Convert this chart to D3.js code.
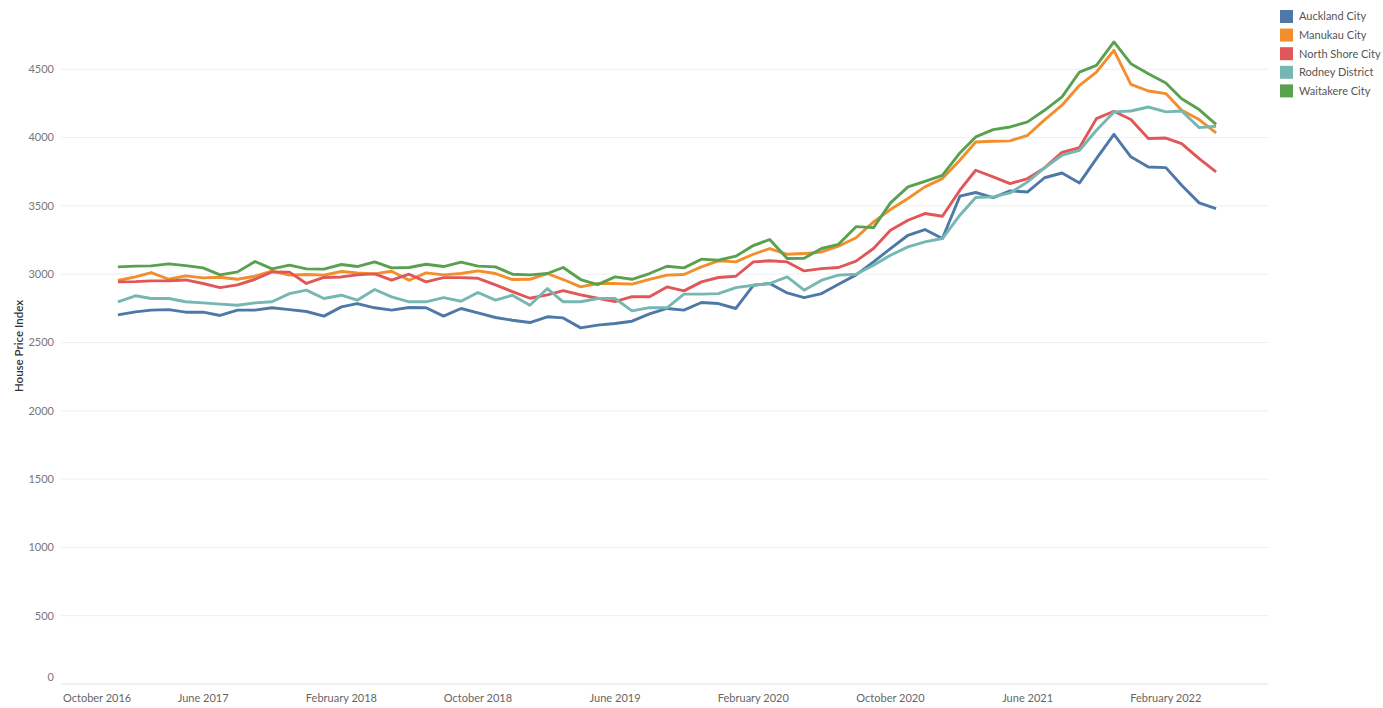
<!DOCTYPE html>
<html>
<head>
<meta charset="utf-8">
<script src="https://cdn.jsdelivr.net/npm/d3@7"></script>
<style>
  body { margin:0; background:#fff; }
  text { font-family: Lato, "Noto Sans", sans-serif; }
</style>
</head>
<body>
<svg id="chart" width="1383" height="708"></svg>
<script>
// monthly index, Jan 2017 .. May 2022
var months = d3.timeMonth.range(new Date(2017, 0, 1), new Date(2022, 5, 1))

var series = ["Auckland City", "Manukau City", "North Shore City", "Rodney District", "Waitakere City"]
var colors = ["#4e79a7", "#f28e2b", "#e15759", "#76b7b2", "#59a14f"]

var auckland = [2702,2724,2737,2741,2722,2722,2698,2737,2737,2754,
  2741,2727,2693,2761,2785,2754,2737,2756,2754,2693,
  2749,2717,2683,2663,2646,2688,2680,2607,2627,2639,
  2656,2710,2749,2737,2793,2785,2749,2919,2932,2863,
  2829,2858,2927,2995,3090,3188,3285,3327,3261,3571,
  3598,3561,3610,3602,3706,3741,3668,3846,4024,3859,
  3785,3780,3651,3522,3480]
var manukau = [2954,2980,3012,2963,2988,2973,2978,2963,2985,3022,
  2993,2998,2993,3020,3010,3002,3022,2956,3010,2995,
  3005,3024,3005,2961,2963,3005,2961,2907,2932,2932,
  2927,2962,2993,2998,3054,3098,3090,3146,3188,3146,
  3151,3163,3205,3267,3383,3473,3554,3639,3700,3834,
  3968,3973,3976,4017,4130,4237,4383,4480,4639,4390,
  4341,4322,4200,4132,4034]
var northShore = [2944,2946,2951,2951,2958,2932,2902,2922,2963,3017,
  3015,2932,2976,2980,2995,3002,2956,3000,2944,2975,
  2975,2970,2922,2873,2824,2849,2880,2849,2824,2800,
  2836,2835,2907,2878,2944,2976,2985,3090,3098,3090,
  3024,3041,3049,3096,3188,3322,3395,3444,3424,3615,
  3761,3712,3663,3700,3778,3892,3927,4139,4193,4132,
  3993,3997,3956,3846,3749]
var rodney = [2798,2842,2822,2822,2798,2790,2781,2773,2790,2798,
  2858,2883,2822,2846,2810,2888,2834,2798,2798,2829,
  2802,2866,2810,2846,2773,2895,2798,2798,2822,2822,
  2732,2755,2754,2854,2854,2858,2902,2919,2932,2980,
  2883,2956,2993,3000,3066,3139,3200,3237,3261,3432,
  3561,3566,3595,3676,3778,3871,3907,4054,4188,4195,
  4224,4188,4195,4073,4083]
var waitakere = [3054,3059,3061,3076,3063,3046,2995,3017,3093,3039,
  3066,3039,3037,3071,3056,3090,3046,3049,3073,3056,
  3088,3059,3054,3000,2995,3005,3049,2961,2924,2980,
  2963,3005,3058,3046,3110,3102,3132,3210,3254,3115,
  3117,3188,3219,3348,3341,3522,3639,3680,3724,3888,
  4005,4058,4078,4115,4200,4298,4480,4529,4700,4541,
  4468,4400,4285,4205,4097]
var values = [auckland, manukau, northShore, rodney, waitakere]

var yTicks = [0, 500, 1000, 1500, 2000, 2500, 3000, 3500, 4000, 4500]
var xTicks = [new Date(2016, 9, 1), new Date(2017, 5, 1), new Date(2018, 1, 1), new Date(2018, 9, 1),
  new Date(2019, 5, 1), new Date(2020, 1, 1), new Date(2020, 9, 1), new Date(2021, 5, 1), new Date(2022, 1, 1)]

var svg = d3.select("#chart")
var paneL = 61, paneR = 1268

var x = d3.scaleTime().domain([new Date(2016, 9, 1), new Date(2022, 7, 1)]).range([66, 1268])
var y = d3.scaleLinear().domain([0, 4500]).range([684, 69.3])

// gridlines
svg.append("g").selectAll("line").data(yTicks).enter().append("line")
  .attr("x1", paneL).attr("x2", paneR)
  .attr("y1", d => y(d)).attr("y2", d => y(d))
  .style("stroke", d => d == 0 ? "#e4e4e4" : "#efefef")
  .style("stroke-width", 1)

// y labels
svg.append("g").selectAll("text").data(yTicks).enter().append("text")
  .attr("x", 54).attr("y", d => Math.min(y(d), 677))
  .attr("dy", "0.35em")
  .attr("text-anchor", "end")
  .style("font-size", "11px").style("fill", "#777")
  .text(d => d)

// x labels
var fmt = d3.timeFormat("%B %Y")
svg.append("g").selectAll("text").data(xTicks).enter().append("text")
  .attr("x", (d, i) => i == 0 ? 63 : x(d))
  .attr("y", 698).attr("dy", "0.35em")
  .attr("text-anchor", (d, i) => i == 0 ? "start" : "middle")
  .style("font-size", "11px").style("fill", "#666")
  .text(d => fmt(d))

// axis title
svg.append("text")
  .attr("transform", "translate(19,346) rotate(-90)")
  .attr("dy", "0.35em")
  .attr("text-anchor", "middle")
  .style("font-size", "11.5px").style("fill", "#333").style("font-weight", 600)
  .text("House Price Index")

// lines
var line = d3.line().x((d, i) => x(months[i])).y(d => y(d))
svg.append("g").selectAll("path").data(values).enter().append("path")
  .attr("d", line)
  .style("fill", "none")
  .style("stroke", (d, i) => colors[i])
  .style("stroke-width", 2.9)
  .style("stroke-linejoin", "round")

// legend
var lg = svg.append("g").selectAll("g").data(series).enter().append("g")
  .attr("transform", (d, i) => "translate(1280," + (10 + i * 18.6) + ")")
lg.append("rect").attr("width", 13).attr("height", 13).style("fill", (d, i) => colors[i])
lg.append("text").attr("x", 19).attr("y", 6.5).attr("dy", "0.35em")
  .style("font-size", "11px").style("fill", "#555")
  .text(d => d)
</script>
</body>
</html>
